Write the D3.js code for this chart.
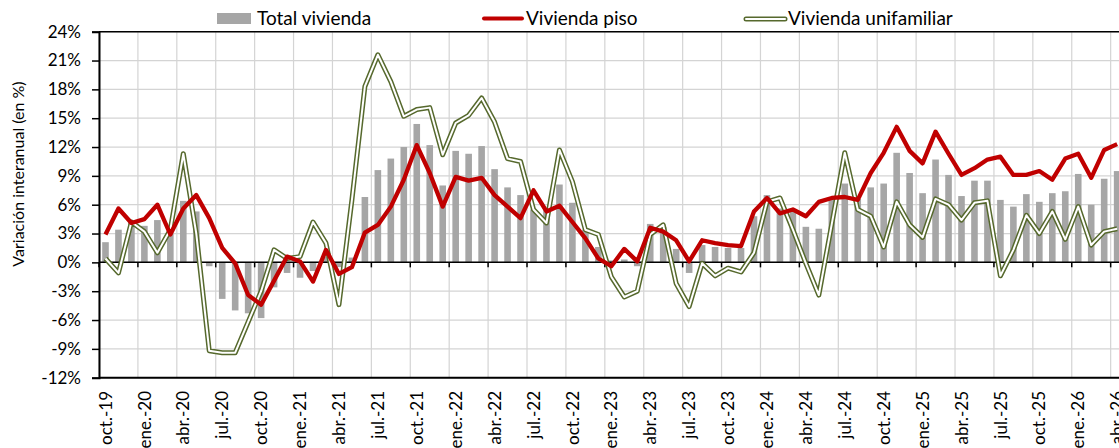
<!DOCTYPE html>
<html>
<head>
<meta charset="utf-8">
<script src="https://cdn.jsdelivr.net/npm/d3@7"></script>
<style>
  html, body { margin: 0; padding: 0; background: #fff; }
  body { width: 1119px; height: 448px; overflow: hidden; }
  text { font-family: Lato, "Open Sans", sans-serif; fill: #000; }
</style>
</head>
<body>
<script>
// months shown: oct.19 .. abr.26
var mesesAbr = ["ene.", "feb.", "mar.", "abr.", "may.", "jun.", "jul.", "ago.", "sep.", "oct.", "nov.", "dic."];
var inicio = { mes: 9, anio: 2019 };
var nMeses = 79;

// Total vivienda (bars)
var totalVivienda = [
    2.1, 3.4, 4.3, 3.8, 4.4, 3.0, 6.4, 5.3, -0.4, -3.8, -5.0, -5.3,
    -5.8, -2.6, -1.1, -1.6, -0.9, 0.6, -0.5, 0.5, 6.8, 9.6, 10.8, 12.0,
    14.4, 12.2, 8.0, 11.6, 11.3, 12.1, 9.7, 7.8, 7.0, 5.5, 5.6, 8.1,
    6.2, 3.4, 1.6, 0.2, 0.3, -0.4, 4.0, 3.7, 1.4, -1.1, 1.8, 1.6,
    1.5, 1.5, 4.8, 7.0, 5.6, 5.3, 3.7, 3.5, 6.5, 8.2, 6.6, 7.8,
    8.2, 11.4, 9.3, 7.2, 10.7, 9.1, 6.9, 8.5, 8.5, 6.5, 5.8, 7.1,
    6.3, 7.2, 7.4, 9.2, 6.0, 8.7, 9.5
];

// Vivienda piso (red line)
var viviendaPiso = [
    2.9, 5.6, 4.1, 4.5, 6.0, 2.9, 5.6, 7.0, 4.6, 1.5, -0.1, -3.4,
    -4.4, -1.9, 0.6, 0.1, -2.0, 1.3, -1.2, -0.5, 3.1, 3.9, 5.8, 8.6,
    12.2, 9.3, 5.8, 8.9, 8.5, 8.8, 7.0, 5.8, 4.6, 7.5, 5.3, 5.9,
    4.2, 2.5, 0.4, -0.4, 1.4, 0.1, 3.6, 3.2, 2.3, 0.1, 2.3, 2.0,
    1.8, 1.7, 5.3, 6.7, 5.1, 5.5, 4.8, 6.3, 6.7, 6.8, 6.5, 9.3,
    11.4, 14.1, 11.6, 10.3, 13.6, 11.3, 9.1, 9.8, 10.7, 11.0, 9.1, 9.1,
    9.5, 8.6, 10.8, 11.3, 8.8, 11.7, 12.3
];

// Vivienda unifamiliar (green double line)
var viviendaUnifamiliar = [
    0.4, -1.1, 4.2, 3.2, 1.0, 3.4, 11.3, 3.0, -9.2, -9.4, -9.4, -6.2,
    -3.0, 1.3, 0.4, 0.6, 4.2, 2.0, -4.4, 6.5, 18.3, 21.6, 18.8, 15.2,
    15.9, 16.1, 11.2, 14.5, 15.3, 17.1, 14.6, 10.8, 10.5, 5.5, 4.1, 11.7,
    8.4, 3.4, 2.9, -1.5, -3.6, -3.0, 2.9, 3.9, -2.2, -4.6, -0.1, -1.4,
    -0.6, -1.0, 1.0, 6.3, 6.7, 3.4, -0.1, -3.4, 4.0, 11.4, 5.5, 4.8,
    1.6, 6.3, 3.9, 2.6, 6.6, 6.0, 4.4, 6.2, 6.4, -1.4, 1.3, 4.9,
    3.0, 5.3, 2.4, 5.8, 1.8, 3.2, 3.5
];

var yTicks = d3.range(-12, 25, 3);

// category labels like "oct.-19"
var categorias = d3.range(nMeses).map(function(i) {
    var m = (inicio.mes + i) % 12;
    var a = inicio.anio + Math.floor((inicio.mes + i) / 12);
    return mesesAbr[m] + "-" + String(a).slice(2);
});

var width = 1119, height = 448;
var plot = { left: 99, top: 31.7, bottom: 377.7, monthW: 12.97 };
plot.right = plot.left + nMeses * plot.monthW;

var svg = d3.select("body").append("svg")
    .attr("width", width)
    .attr("height", height);

var x = d3.scaleBand()
    .domain(categorias)
    .range([plot.left, plot.right])
    .padding(0);

var y = d3.scaleLinear()
    .domain([-12, 24])
    .range([plot.bottom, plot.top]);

var bw = x.bandwidth();
var cx = function(i) { return x(categorias[i]) + bw / 2; };

// gridlines
svg.append("g").selectAll("line.h")
    .data(yTicks)
    .enter().append("line")
    .attr("x1", plot.left).attr("x2", plot.right)
    .attr("y1", function(d) { return y(d); })
    .attr("y2", function(d) { return y(d); })
    .attr("stroke", "#d4d4d4").attr("stroke-width", 1.2);

var cadaTres = categorias.filter(function(d, i) { return i % 3 === 0; });

svg.append("g").selectAll("line.v")
    .data(cadaTres)
    .enter().append("line")
    .attr("x1", function(d) { return x(d); })
    .attr("x2", function(d) { return x(d); })
    .attr("y1", plot.top).attr("y2", plot.bottom)
    .attr("stroke", "#d4d4d4").attr("stroke-width", 1.2);

// bars
svg.append("g").selectAll("rect")
    .data(totalVivienda)
    .enter().append("rect")
    .attr("x", function(d, i) { return cx(i) - 3.3; })
    .attr("width", 6.6)
    .attr("y", function(d) { return y(Math.max(0, d)); })
    .attr("height", function(d) { return Math.abs(y(d) - y(0)); })
    .attr("fill", "#a6a6a6");

// frame: top, bottom, left axis
svg.append("line")
    .attr("x1", plot.left).attr("x2", plot.right)
    .attr("y1", plot.top).attr("y2", plot.top)
    .attr("stroke", "#000").attr("stroke-width", 1.5);
svg.append("line")
    .attr("x1", plot.left).attr("x2", plot.right)
    .attr("y1", plot.bottom).attr("y2", plot.bottom)
    .attr("stroke", "#000").attr("stroke-width", 2);

// zero line with ticks
svg.append("line")
    .attr("x1", plot.left).attr("x2", plot.right)
    .attr("y1", y(0)).attr("y2", y(0))
    .attr("stroke", "#000").attr("stroke-width", 1.5);
svg.append("g").selectAll("line")
    .data(cadaTres)
    .enter().append("line")
    .attr("x1", function(d) { return x(d); })
    .attr("x2", function(d) { return x(d); })
    .attr("y1", y(0)).attr("y2", y(0) + 5)
    .attr("stroke", "#000").attr("stroke-width", 1.5);

// lines
var line = function(vals) {
    return d3.line()
        .x(function(d, i) { return cx(i); })
        .y(function(d) { return y(d); })(vals);
};

svg.append("path")
    .attr("d", line(viviendaUnifamiliar))
    .attr("fill", "none")
    .attr("stroke", "#56692d")
    .attr("stroke-width", 5)
    .attr("stroke-linejoin", "round");
svg.append("path")
    .attr("d", line(viviendaUnifamiliar))
    .attr("fill", "none")
    .attr("stroke", "#fff")
    .attr("stroke-width", 2)
    .attr("stroke-linejoin", "round");

svg.append("path")
    .attr("d", line(viviendaPiso))
    .attr("fill", "none")
    .attr("stroke", "#c00000")
    .attr("stroke-width", 4.3)
    .attr("stroke-linejoin", "round");

// y axis
var yAxis = svg.append("g")
    .attr("transform", "translate(" + plot.left + ",0)")
    .call(d3.axisLeft(y)
        .tickValues(yTicks)
        .tickSize(7)
        .tickPadding(11)
        .tickFormat(function(d) { return d + "%"; }));
yAxis.select(".domain").attr("stroke", "#000").attr("stroke-width", 2);
yAxis.selectAll(".tick line").attr("stroke", "#000").attr("stroke-width", 1.5);
yAxis.selectAll(".tick text")
    .style("font-family", "Lato, 'Open Sans', sans-serif")
    .style("font-size", "17px")
    .attr("fill", "#000");

// x labels
svg.append("g").selectAll("text")
    .data(cadaTres)
    .enter().append("text")
    .attr("transform", function(d) {
        return "translate(" + (x(d) + bw / 2) + ",391) rotate(-90)";
    })
    .attr("dy", "0.36em")
    .attr("text-anchor", "end")
    .style("font-size", "17px")
    .text(function(d) { return d; });

// y title
svg.append("text")
    .attr("transform", "translate(18,174) rotate(-90)")
    .attr("dy", "0.35em")
    .attr("text-anchor", "middle")
    .style("font-size", "16px")
    .text("Variación interanual (en %)");

// legend
var leg = svg.append("g");
leg.append("rect")
    .attr("x", 217).attr("y", 13).attr("width", 34).attr("height", 11)
    .attr("fill", "#a6a6a6");
leg.append("text").attr("x", 257).attr("y", 25)
    .style("font-size", "19px").text("Total vivienda");

leg.append("line")
    .attr("x1", 484).attr("x2", 522).attr("y1", 18.5).attr("y2", 18.5)
    .attr("stroke", "#c00000").attr("stroke-width", 4).attr("stroke-linecap", "round");
leg.append("text").attr("x", 526).attr("y", 25)
    .style("font-size", "19px").text("Vivienda piso");

leg.append("line")
    .attr("x1", 746).attr("x2", 785).attr("y1", 19).attr("y2", 19)
    .attr("stroke", "#56692d").attr("stroke-width", 5).attr("stroke-linecap", "round");
leg.append("line")
    .attr("x1", 746).attr("x2", 785).attr("y1", 19).attr("y2", 19)
    .attr("stroke", "#fff").attr("stroke-width", 2).attr("stroke-linecap", "round");
leg.append("text").attr("x", 788).attr("y", 25)
    .style("font-size", "19px").text("Vivienda unifamiliar");
</script>
</body>
</html>
